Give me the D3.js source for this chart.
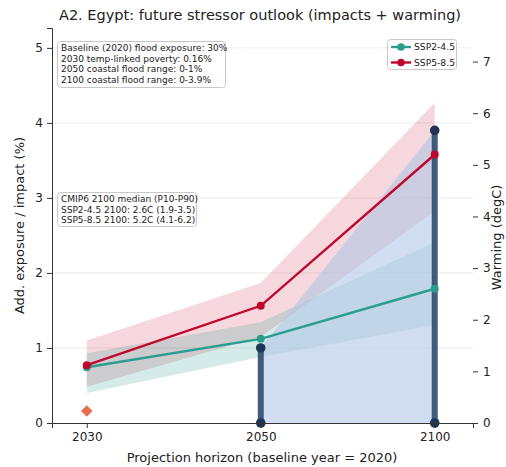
<!DOCTYPE html>
<html>
<head>
<meta charset="utf-8">
<script src="https://cdn.jsdelivr.net/npm/d3@7"></script>
<style>
  html, body { margin: 0; padding: 0; background: #fff; }
  svg { display: block; font-family: "DejaVu Sans", sans-serif; }
</style>
</head>
<body>
<svg id="chart" width="506" height="467"></svg>
<script>
// Projection horizons (categorical x axis)
const horizons = ["2030", "2050", "2100"];

// Warming (degC), CMIP6 median with P10-P90 band
const ssp245Median = [1.08, 1.63, 2.6];
const ssp245Low    = [0.58, 1.28, 1.9];
const ssp245High   = [1.35, 1.95, 3.5];
const ssp585Median = [1.12, 2.27, 5.2];
const ssp585Low    = [0.70, 1.67, 4.1];
const ssp585High   = [1.60, 2.71, 6.2];

// Coastal flood exposure range (% added), upper bound per horizon
const floodHorizons = ["2050", "2100"];
const floodHigh = [1.0, 3.9];

// Temperature-linked poverty impact (%)
const povertyHorizon = "2030";
const povertyValue = 0.16;

const leftTicks = [0, 1, 2, 3, 4, 5];
const rightTicks = [0, 1, 2, 3, 4, 5, 6, 7];

const noteLines = [
  "Baseline (2020) flood exposure: 30%",
  "2030 temp-linked poverty: 0.16%",
  "2050 coastal flood range: 0-1%",
  "2100 coastal flood range: 0-3.9%"
];
const cmipLines = [
  "CMIP6 2100 median (P10-P90)",
  "SSP2-4.5 2100: 2.6C (1.9-3.5)",
  "SSP5-8.5 2100: 5.2C (4.1-6.2)"
];

const colTeal = "#2a9d8f";
const colRed = "#c1062e";
const colNavy = "#2f4b6e";
const colFlood = "#b3c6e6";
const colPoverty = "#e76f51";

const svg = d3.select("#chart");
const L = 52, R = 473, T = 28, B = 423;

const x = d3.scaleLinear().domain([-0.2, 2.22]).range([L, R]);
const xi = h => x(horizons.indexOf(h));
const yL = d3.scaleLinear().domain([0, 5.265]).range([B, T]);
const yR = d3.scaleLinear().domain([0, 7.65]).range([B, T]);

// Gridlines on the impact axis
svg.append("g").selectAll("line").data(leftTicks.slice(1)).join("line")
  .attr("x1", L).attr("x2", R)
  .attr("y1", d => yL(d)).attr("y2", d => yL(d))
  .attr("stroke", "#e6e6e6").attr("stroke-width", 0.8);

const idx = horizons.map((h, i) => i);

// Warming uncertainty bands
const band = (lo, hi) => d3.area()
  .x(i => x(i)).y0(i => yR(lo[i])).y1(i => yR(hi[i]));
svg.append("path").datum(idx).attr("d", band(ssp585Low, ssp585High))
  .attr("fill", colRed).attr("fill-opacity", 0.16);
svg.append("path").datum(idx).attr("d", band(ssp245Low, ssp245High))
  .attr("fill", colTeal).attr("fill-opacity", 0.2);

// Coastal flood exposure range
const floodIdx = floodHorizons.map(h => horizons.indexOf(h));
svg.append("path").datum(floodIdx.map((d, k) => [d, floodHigh[k]]))
  .attr("d", d3.area().x(d => x(d[0])).y0(yL(0)).y1(d => yL(d[1])))
  .attr("fill", colFlood).attr("fill-opacity", 0.6);

// Flood range whiskers
floodHorizons.forEach((h, k) => {
  const g = svg.append("g");
  g.append("line").attr("x1", xi(h)).attr("x2", xi(h))
    .attr("y1", yL(0)).attr("y2", yL(floodHigh[k]))
    .attr("stroke", colNavy).attr("stroke-width", 6).attr("stroke-opacity", 0.9);
  [0, floodHigh[k]].forEach(v => g.append("circle")
    .attr("cx", xi(h)).attr("cy", yL(v)).attr("r", 4.8)
    .attr("fill", "#1f3556"));
});

// Median warming lines
function series(vals, col) {
  svg.append("path").datum(idx)
    .attr("d", d3.line().x(i => x(i)).y(i => yR(vals[i])))
    .attr("fill", "none").attr("stroke", col).attr("stroke-width", 2.4);
  svg.append("g").selectAll("circle").data(idx).join("circle")
    .attr("cx", i => x(i)).attr("cy", i => yR(vals[i])).attr("r", 4)
    .attr("fill", col);
}
series(ssp245Median, colTeal);
series(ssp585Median, colRed);

// Poverty marker
svg.append("path")
  .attr("d", d3.symbol().type(d3.symbolDiamond2).size(85)())
  .attr("transform", `translate(${xi(povertyHorizon)},${yL(povertyValue)})`)
  .attr("fill", colPoverty);

// Axes
const axL = svg.append("g").attr("transform", `translate(${L},0)`)
  .call(d3.axisLeft(yL).tickValues(leftTicks).tickFormat(d3.format("d")).tickSizeOuter(0).tickSize(5).tickPadding(4));
const axB = svg.append("g").attr("transform", `translate(0,${B})`)
  .call(d3.axisBottom(x).tickValues(idx).tickFormat(i => horizons[i]).tickSizeOuter(0).tickSize(5).tickPadding(4));
const axR = svg.append("g").attr("transform", `translate(${R},0)`)
  .call(d3.axisRight(yR).tickValues(rightTicks).tickFormat(d3.format("d")).tickSizeOuter(0).tickSize(5).tickPadding(5));
axR.select(".domain").remove();
[axL, axB, axR].forEach(a => {
  a.selectAll("text").attr("font-size", 12).attr("fill", "#222")
    .attr("font-family", "DejaVu Sans");
  a.selectAll("line").attr("stroke", "#333");
  a.select(".domain").attr("stroke", "#333").attr("stroke-width", 1);
});

// Titles and axis labels
svg.append("text").attr("x", 260).attr("y", 20).attr("text-anchor", "middle")
  .attr("font-size", 14.5).attr("fill", "#222")
  .text("A2. Egypt: future stressor outlook (impacts + warming)");
svg.append("text").attr("x", 262).attr("y", 462).attr("text-anchor", "middle")
  .attr("font-size", 13).attr("fill", "#222")
  .text("Projection horizon (baseline year = 2020)");
svg.append("text").attr("transform", `translate(24,${(T + B) / 2}) rotate(-90)`)
  .attr("text-anchor", "middle").attr("font-size", 13).attr("fill", "#222")
  .text("Add. exposure / impact (%)");
svg.append("text").attr("transform", `translate(501,${(T + B) / 2 + 12}) rotate(-90)`)
  .attr("text-anchor", "middle").attr("font-size", 13).attr("fill", "#222")
  .text("Warming (degC)");

// Annotation boxes
function noteBox(lines, x0, y0, w, h) {
  const lh = 10.75;
  svg.append("rect").attr("x", x0).attr("y", y0).attr("width", w)
    .attr("height", h).attr("rx", 3)
    .attr("fill", "#fff").attr("fill-opacity", 0.85)
    .attr("stroke", "#c8c8c8").attr("stroke-width", 1);
  svg.append("g").selectAll("text").data(lines).join("text")
    .attr("x", x0 + 3.5).attr("y", (d, i) => y0 + 9.3 + i * lh)
    .attr("font-size", 9).attr("fill", "#222").text(d => d);
}
noteBox(noteLines, 57.5, 41.5, 168, 46);
noteBox(cmipLines, 57.5, 192.5, 139, 34);

// Legend
const leg = svg.append("g");
leg.append("rect").attr("x", 387.5).attr("y", 39.5).attr("width", 69).attr("height", 30)
  .attr("rx", 3).attr("fill", "#fff").attr("fill-opacity", 0.85)
  .attr("stroke", "#c8c8c8");
[["SSP2-4.5", colTeal], ["SSP5-8.5", colRed]].forEach(([name, col], k) => {
  const yy = 47 + k * 15.5;
  leg.append("line").attr("x1", 391).attr("x2", 411).attr("y1", yy).attr("y2", yy)
    .attr("stroke", col).attr("stroke-width", 2.4);
  leg.append("circle").attr("cx", 401).attr("cy", yy).attr("r", 3.8).attr("fill", col);
  leg.append("text").attr("x", 414).attr("y", yy + 3.3).attr("font-size", 9.2)
    .attr("fill", "#222").text(name);
});
</script>
</body>
</html>
